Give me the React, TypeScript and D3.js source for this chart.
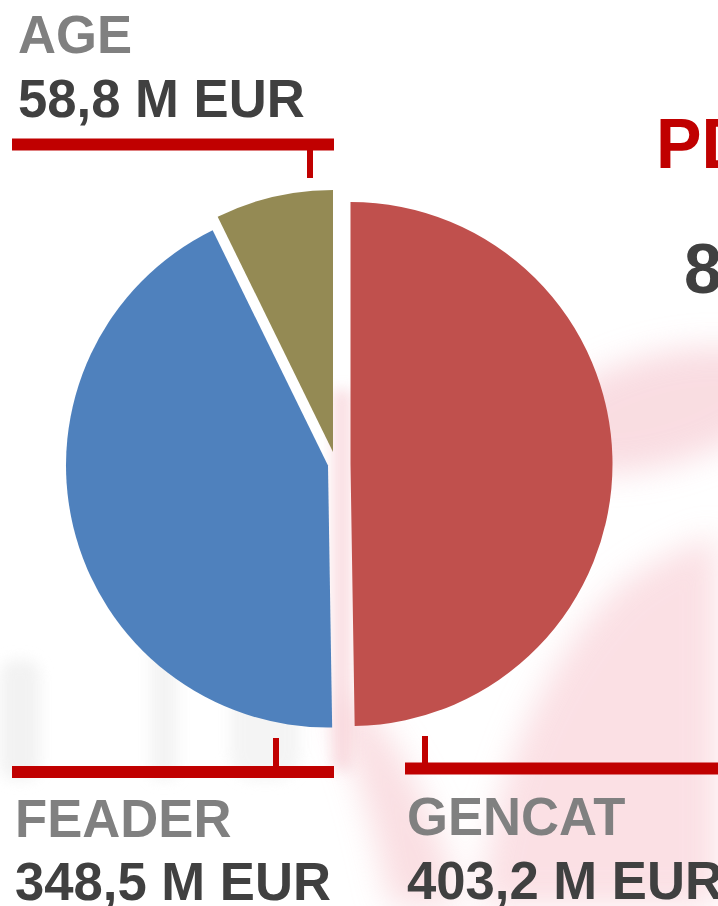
import React from "react";
import * as d3 from "d3";

// slices, clockwise from 12 o'clock
const categories = ["GENCAT", "FEADER", "AGE"];
const values = [403.2, 348.5, 58.8];
const sliceColors = ["#C0504D", "#4F81BD", "#948A54"];
// how far each slice is pulled out of the pie (dx, dy)
const explode: [number, number][] = [[12.5, 0], [-10, 1.5], [-5, -12]];

const titleText = "PDR";
const unit = "M EUR";

const W = 718;
const H = 906;
const cx = 338;
const cy = 464;
const radius = 262;

const fmt = (v: number) => d3.format(".1f")(v).replace(".", ",") + " " + unit;

// callout lines + label placement for each slice
const callouts = [
  { x0: 405, x1: 718, y: 768.5, tickX: 425, tickY: 736, tx: 407, ty1: 835, ty2: 899 },
  { x0: 12, x1: 334, y: 772, tickX: 276, tickY: 738, tx: 15, ty1: 837, ty2: 900 },
  { x0: 12, x1: 334, y: 144.5, tickX: 310, tickY: 178, tx: 18, ty1: 53, ty2: 117 },
];

export default function App() {
  const pie = d3.pie<number>().sort(null).value((d) => d);
  const arcs = pie(values);
  const arc = d3.arc<d3.PieArcDatum<number>>().innerRadius(0).outerRadius(radius);
  const total = d3.sum(values);
  const font = "'Liberation Sans', Arial, sans-serif";

  // labels are slightly condensed in the original
  const label = (x: number, y: number, txt: string, fill: string, size = 54) => (
    <text
      transform={`translate(${x},${y}) scale(0.975,1)`}
      fontFamily={font}
      fontWeight="bold"
      fontSize={size}
      fill={fill}
    >
      {txt}
    </text>
  );

  return (
    <svg width={W} height={H} style={{ position: "absolute", left: 0, top: 0, background: "#fff" }}>
      <defs>
        <filter id="blur" x="-50%" y="-50%" width="200%" height="200%">
          <feGaussianBlur stdDeviation="16" />
        </filter>
        <filter id="blur2" x="-50%" y="-50%" width="200%" height="200%">
          <feGaussianBlur stdDeviation="7" />
        </filter>
      </defs>

      {/* faint watermark behind the chart */}
      <g filter="url(#blur)" opacity={0.7}>
        <ellipse cx={660} cy={410} rx={130} ry={55} transform="rotate(-15,660,410)" fill="#F7CED5" />
        <path d="M480,906 C490,790 540,660 620,585 C660,555 700,540 718,535 L718,906 Z" fill="#F9D3D9" />
        <path d="M350,690 C400,740 440,820 460,906 L390,906 C375,830 355,760 335,720 Z" fill="#F8D0D6" />
      </g>
      <g filter="url(#blur2)" opacity={0.7}>
        <rect x={333} y={390} width={18} height={380} fill="#F7CFD5" />
        <rect x={0} y={660} width={40} height={120} rx={15} fill="#EDEDED" />
        <rect x={150} y={640} width={28} height={140} rx={10} fill="#EFEFEF" />
        <rect x={230} y={650} width={70} height={130} rx={25} fill="#F0F0F0" />
      </g>

      {arcs.map((a, i) => (
        <path
          key={categories[i]}
          d={arc(a) as string}
          transform={`translate(${cx + explode[i][0]},${cy + explode[i][1]})`}
          fill={sliceColors[i]}
        />
      ))}

      {callouts.map((c, i) => (
        <g key={"c" + i}>
          <line x1={c.x0} x2={c.x1} y1={c.y} y2={c.y} stroke="#C00000" strokeWidth={12} />
          <line x1={c.tickX} x2={c.tickX} y1={c.tickY} y2={c.y} stroke="#C00000" strokeWidth={6} />
          {label(c.tx, c.ty1, categories[i], "#808080")}
          {label(c.tx, c.ty2, fmt(values[i]), "#404040")}
        </g>
      ))}

      {label(656, 168, titleText, "#C00000", 70)}
      {label(684, 293, fmt(total), "#404040", 70)}
    </svg>
  );
}
